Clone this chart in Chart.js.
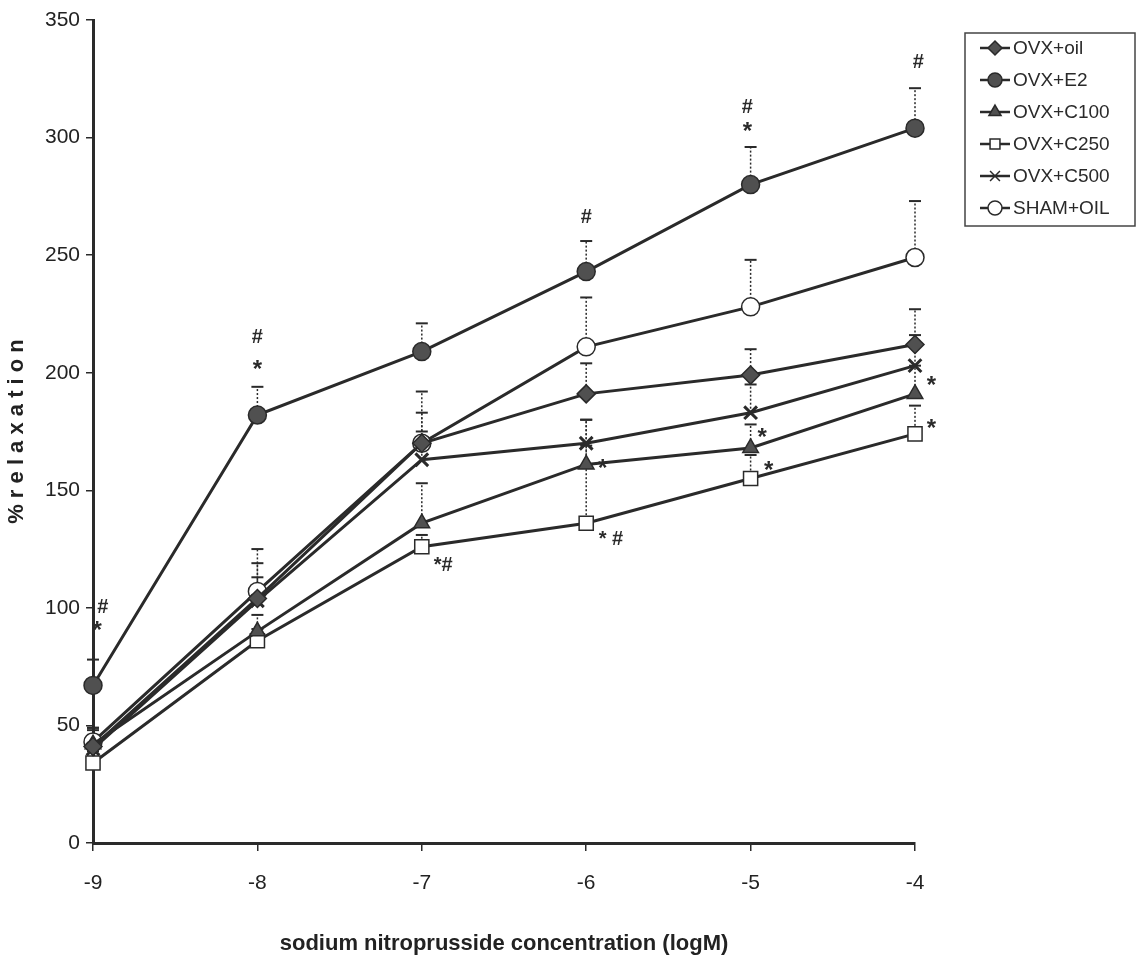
<!DOCTYPE html>
<html>
<head>
<meta charset="utf-8">
<script src="https://cdn.jsdelivr.net/npm/chart.js@4.4.1/dist/chart.umd.min.js"></script>
<style>
  html, body { margin: 0; padding: 0; background: #fff; }
  #wrap { width: 1141px; height: 961px; position: relative; }
</style>
</head>
<body>
<div id="wrap"><canvas id="chart-snp"></canvas></div>
<script>
const concentrations = [-9, -8, -7, -6, -5, -4];
const xTicks = [-9, -8, -7, -6, -5, -4];
const yTicks = [0, 50, 100, 150, 200, 250, 300, 350];

const ovxOil = [41, 104, 170, 191, 199, 212];
const ovxOilErr = [8, 15, 13, 13, 11, 15];
const ovxE2 = [67, 182, 209, 243, 280, 304];
const ovxE2Err = [11, 12, 12, 13, 16, 17];
const ovxC100 = [42, 90, 136, 161, 168, 191];
const ovxC100Err = [6, 7, 17, 8, 10, 12];
const ovxC250 = [34, 86, 126, 136, 155, 174];
const ovxC250Err = [5, 5, 5, 44, 10, 12];
const ovxC500 = [40, 103, 163, 170, 183, 203];
const ovxC500Err = [6, 10, 12, 10, 12, 13];
const shamOil = [43, 107, 170, 211, 228, 249];
const shamOilErr = [6, 18, 22, 21, 20, 24];

// significance marks: [x, y, text]
const sigMarks = [
  [-8.94, 100, '#'], [-8.975, 90, '*'],
  [-8, 215, '#'], [-8, 201, '*'],
  [-6.87, 118, '*#'],
  [-6, 266, '#'], [-5.9, 159, '*'], [-5.85, 129, '* #'],
  [-5.02, 313, '#'], [-5.02, 302, '*'], [-4.93, 172, '*'], [-4.89, 158, '*'],
  [-3.98, 332, '#'], [-3.9, 194, '*'], [-3.9, 176, '*']
];

const INK = '#2a2a2a';
const FONT = "'Liberation Sans Narrow', 'Liberation Sans', Arial, sans-serif";

function series(label, values, errors, style, fill) {
  return {
    label: label,
    data: concentrations.map((x, i) => ({ x: x, y: values[i] })),
    errors: errors,
    borderColor: INK,
    borderWidth: 3,
    pointStyle: style,
    pointRadius: style === 'rect' ? 10 : 9,
    pointBackgroundColor: fill,
    pointBorderColor: INK,
    pointBorderWidth: style === 'crossRot' ? 3 : 1.5,
    tension: 0,
    clip: false,
  };
}

const datasets = [
  series('OVX+oil', ovxOil, ovxOilErr, 'rectRot', '#505050'),
  series('OVX+E2', ovxE2, ovxE2Err, 'circle', '#505050'),
  series('OVX+C100', ovxC100, ovxC100Err, 'triangle', '#505050'),
  series('OVX+C250', ovxC250, ovxC250Err, 'rect', '#fff'),
  series('OVX+C500', ovxC500, ovxC500Err, 'crossRot', '#505050'),
  series('SHAM+OIL', shamOil, shamOilErr, 'circle', '#fff'),
];

const errorBars = {
  id: 'errorBars',
  beforeDatasetsDraw(chart) {
    const { ctx, scales } = chart;
    ctx.save();
    ctx.strokeStyle = INK;
    chart.data.datasets.forEach(ds => {
      ds.data.forEach((p, i) => {
        const px = scales.x.getPixelForValue(p.x);
        const y0 = scales.y.getPixelForValue(p.y);
        const y1 = scales.y.getPixelForValue(p.y + ds.errors[i]);
        ctx.lineWidth = 1.5;
        ctx.setLineDash([2, 2]);
        ctx.beginPath();
        ctx.moveTo(px, y0);
        ctx.lineTo(px, y1);
        ctx.stroke();
        ctx.setLineDash([]);
        ctx.lineWidth = 2;
        ctx.beginPath();
        ctx.moveTo(px - 6, y1);
        ctx.lineTo(px + 6, y1);
        ctx.stroke();
      });
    });
    ctx.restore();
  }
};

const marksAndLegend = {
  id: 'marksAndLegend',
  afterDraw(chart) {
    const { ctx, scales } = chart;
    ctx.save();
    ctx.fillStyle = INK;
    ctx.textAlign = 'center';
    ctx.textBaseline = 'middle';
    sigMarks.forEach(m => {
      ctx.font = (m[2] === '*' ? 'bold 24px ' : 'bold 20px ') + FONT;
      ctx.fillText(m[2], scales.x.getPixelForValue(m[0]), scales.y.getPixelForValue(m[1]));
    });

    // legend box
    const bx = 965, by = 33, bw = 170, bh = 193;
    ctx.strokeStyle = '#444';
    ctx.lineWidth = 1.5;
    ctx.strokeRect(bx, by, bw, bh);
    ctx.textAlign = 'left';
    ctx.font = '19px ' + FONT;
    chart.data.datasets.forEach((ds, i) => {
      const cy = by + 15 + i * 32;
      ctx.strokeStyle = INK;
      ctx.lineWidth = 2.5;
      ctx.beginPath();
      ctx.moveTo(bx + 15, cy);
      ctx.lineTo(bx + 45, cy);
      ctx.stroke();
      ctx.fillStyle = ds.pointBackgroundColor;
      ctx.lineWidth = 1.5;
      Chart.helpers.drawPoint(ctx, { pointStyle: ds.pointStyle, radius: 7, rotation: 0, borderWidth: 1.5 }, bx + 30, cy);
      ctx.fillStyle = INK;
      ctx.fillText(ds.label, bx + 48, cy + 1);
    });
    ctx.restore();
  }
};

new Chart(document.getElementById('chart-snp'), {
  type: 'line',
  data: { datasets: datasets },
  plugins: [errorBars, marksAndLegend],
  options: {
    responsive: true,
    maintainAspectRatio: false,
    animation: false,
    events: [],
    layout: { padding: { top: 20, right: 226, left: 0, bottom: 0 } },
    plugins: { legend: { display: false }, tooltip: { enabled: false } },
    scales: {
      x: {
        type: 'linear',
        min: -9,
        max: -4,
        afterBuildTicks: s => { s.ticks = xTicks.map(v => ({ value: v })); },
        afterFit: s => { s.height = 118; },
        border: { display: true, color: INK, width: 3 },
        grid: { display: true, drawOnChartArea: false, drawTicks: true, tickLength: 8, color: INK, lineWidth: 1.5 },
        ticks: { color: '#222', font: { size: 21, family: FONT }, padding: 20 },
        title: {
          display: true,
          text: 'sodium nitroprusside concentration (logM)',
          color: '#222',
          font: { size: 22, weight: 'bold', family: FONT },
          padding: { top: 12 }
        }
      },
      y: {
        min: 0,
        max: 350,
        afterBuildTicks: s => { s.ticks = yTicks.map(v => ({ value: v })); },
        afterFit: s => { s.width = 93; },
        border: { display: true, color: INK, width: 3 },
        grid: { display: true, drawOnChartArea: false, drawTicks: true, tickLength: 7, color: INK, lineWidth: 1.5 },
        ticks: { color: '#222', font: { size: 21, family: FONT }, padding: 6 },
        title: {
          display: true,
          text: '% r e l a x a t i o n',
          color: '#222',
          font: { size: 22, weight: 'bold', family: FONT },
          padding: { bottom: 4 }
        }
      }
    }
  }
});
</script>
</body>
</html>
